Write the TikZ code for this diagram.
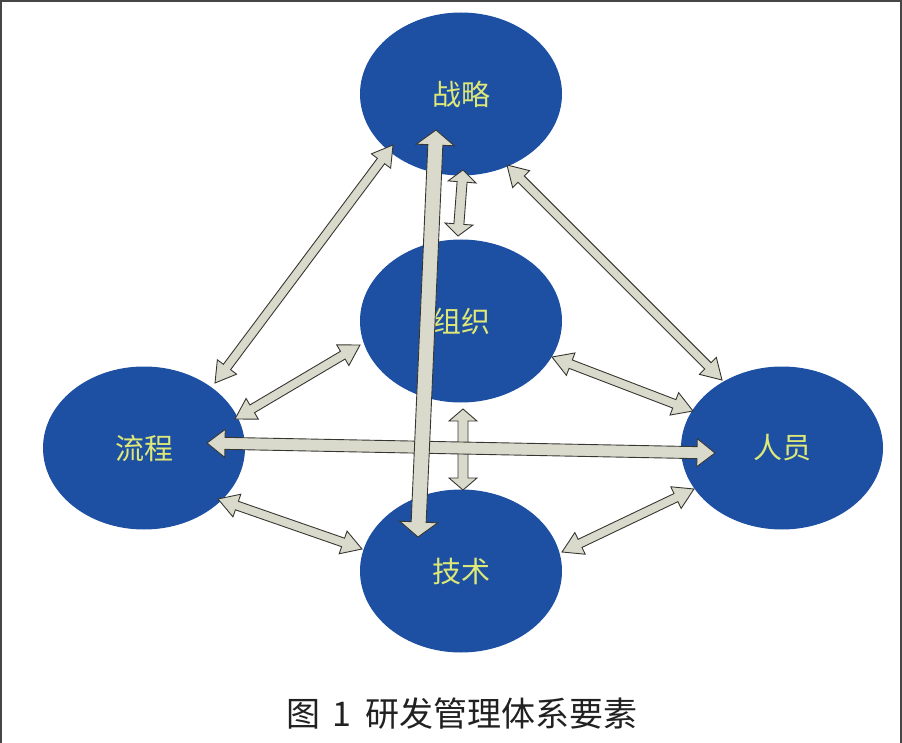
\documentclass[tikz,border=0pt]{standalone}
\usepackage{fontspec}
\newfontfamily\cjk{Noto Sans CJK SC}
\usetikzlibrary{shapes.geometric,calc}
\definecolor{nodeblue}{RGB}{29,80,162}
\definecolor{labelyellow}{RGB}{222,232,120}
\definecolor{arrfill}{RGB}{218,218,204}
\definecolor{arrline}{RGB}{55,55,50}
\definecolor{framegrey}{RGB}{70,70,70}
\tikzset{
  elem/.style={ellipse, fill=nodeblue, draw=none, minimum width=202pt, minimum height=163pt,
    inner sep=0pt, text=labelyellow, font=\cjk\fontsize{29}{31}\selectfont},
  blockarrow/.style={fill=arrfill, draw=arrline, line width=0.9pt, line join=miter},
  framestyle/.style={draw=framegrey, line width=2.5pt}
}
% #1 prefix, #2 start, #3 end, #4 shaft half width, #5 head half width, #6 head length
\newcommand\dblarrow[6]{%
  \coordinate (#1qa) at ($(#2)!#6!(#3)$);
  \coordinate (#1qb) at ($(#3)!#6!(#2)$);
  \draw[blockarrow] (#2) -- ($(#1qa)!#5!90:(#3)$) -- ($(#1qa)!#4!90:(#3)$)
    -- ($(#1qb)!#4!-90:(#2)$) -- ($(#1qb)!#5!-90:(#2)$) -- (#3)
    -- ($(#1qb)!#5!90:(#2)$) -- ($(#1qb)!#4!90:(#2)$)
    -- ($(#1qa)!#4!-90:(#3)$) -- ($(#1qa)!#5!-90:(#3)$) -- cycle;
}
\begin{document}
\begin{tikzpicture}[x=1pt, y=-1pt]
\useasboundingbox (0,0) rectangle (902,743);
\fill[white] (0,0) rectangle (902,743);
% frame
\coordinate (ftl) at (1,1);
\coordinate (ftr) at (901,1);
\coordinate (fbl) at (1,743);
\coordinate (fbr) at (901,743);
\draw[framestyle] (fbl) -- (ftl) -- (ftr) -- (fbr);

% elements
\node[elem] (zl) at (461,94) {战略};
\node[elem] (zz) at (461,321) {组织};
\node[elem] (lc) at (144,448) {流程};
\node[elem] (ry) at (782,448) {人员};
\node[elem] (js) at (461,571) {技术};

% arrow end points
\coordinate (a1s) at (393,145);  \coordinate (a1e) at (215,383);
\coordinate (a2s) at (507,165);  \coordinate (a2e) at (722,380);
\coordinate (a4s) at (463,170);  \coordinate (a4e) at (458,236);
\coordinate (a5s) at (360,345);  \coordinate (a5e) at (235,419);
\coordinate (a6s) at (552,357);  \coordinate (a6e) at (693,411);
\coordinate (a7s) at (463,409);  \coordinate (a7e) at (463,490);
\coordinate (a9s) at (218,499);  \coordinate (a9e) at (362,549);
\coordinate (a10s) at (562,552); \coordinate (a10e) at (694,489);
\coordinate (a8s) at (207,443);  \coordinate (a8e) at (715,453);
\coordinate (a3s) at (436,130);  \coordinate (a3e) at (418,537);

\dblarrow{a}{a1s}{a1e}{4.5pt}{12pt}{20pt}
\dblarrow{b}{a2s}{a2e}{4.5pt}{12pt}{20pt}
\dblarrow{c}{a4s}{a4e}{5pt}{14pt}{12pt}
\dblarrow{d}{a5s}{a5e}{4.5pt}{12pt}{20pt}
\dblarrow{e}{a6s}{a6e}{4.5pt}{12pt}{20pt}
\dblarrow{f}{a7s}{a7e}{5pt}{14pt}{12pt}
\dblarrow{g}{a9s}{a9e}{4.5pt}{12pt}{20pt}
\dblarrow{h}{a10s}{a10e}{4.5pt}{12pt}{20pt}
\dblarrow{i}{a8s}{a8e}{6pt}{14pt}{18pt}
\dblarrow{j}{a3s}{a3e}{7.5pt}{19pt}{15pt}

% caption
\node[font=\cjk\fontsize{34}{36}\selectfont, text=black!87] (cap) at (462,714) {图\hspace{12pt}1\hspace{14pt}研发管理体系要素};
\end{tikzpicture}
\end{document}
